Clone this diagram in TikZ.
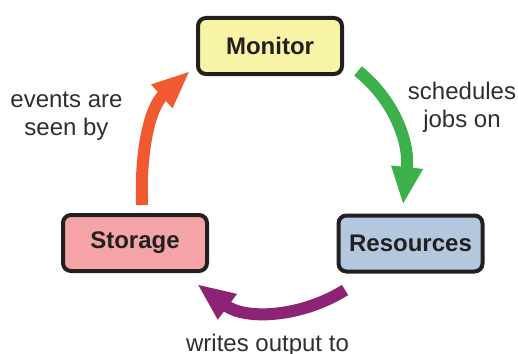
\documentclass[tikz,border=0pt]{standalone}
\usepackage{fontspec}
\setmainfont{Liberation Sans}
\usetikzlibrary{arrows.meta}

\definecolor{ink}{HTML}{231F20}
\definecolor{txt}{HTML}{2E2E2E}
\definecolor{monfill}{HTML}{F7F4A5}
\definecolor{resfill}{HTML}{B3C8DF}
\definecolor{stofill}{HTML}{F4A4A7}
\definecolor{schedgreen}{HTML}{3CB04A}
\definecolor{writepurple}{HTML}{8C2374}
\definecolor{eventorange}{HTML}{F15A30}

\begin{document}
\begin{tikzpicture}[x=1pt, y=-1pt,
  box/.style={draw=ink, line width=4pt, rounded corners=8pt,
    minimum width=144pt, minimum height=56pt, inner sep=0pt,
    text=ink, font=\fontsize{24}{28}\selectfont\bfseries},
  note/.style={text=txt, inner sep=0pt, align=center,
    font=\fontsize{24}{28}\selectfont},
  flow/.style={line width=12pt, -{Triangle[length=38pt, width=29pt]}}
]
  \useasboundingbox (0,0) rectangle (518,353);

  % the three stages
  \node[box, fill=monfill] (mon) at (270,46)    {Monitor};
  \node[box, fill=resfill] (res) at (410.5,243.5) {Resources};
  \node[box, fill=stofill] (sto) at (135,243)   {Storage};

  % free ends of the cycle arrows
  \coordinate (g0) at (358,71);
  \coordinate (g1) at (403,205);
  \coordinate (p0) at (345,290);
  \coordinate (p1) at (197,284);
  \coordinate (r0) at (142,205);
  \coordinate (r1) at (190,71);

  % cycle arrows
  \draw[flow, schedgreen]  (g0) .. controls (392,98) and (410,140) .. (g1);
  \draw[flow, writepurple] (p0) .. controls (300,318) and (245,320) .. (p1);
  \draw[flow, eventorange] (r0) .. controls (140,150) and (150,107) .. (r1);

  % arrow captions (base anchor sits on the last line)
  \node[note, anchor=base] (lsched)  at (462,127) {schedules\\jobs on};
  \node[note, anchor=base] (lwrite)  at (267.5,351) {writes output to};
  \node[note, anchor=base] (levents) at (66.5,135) {events are\\seen by};
\end{tikzpicture}
\end{document}
